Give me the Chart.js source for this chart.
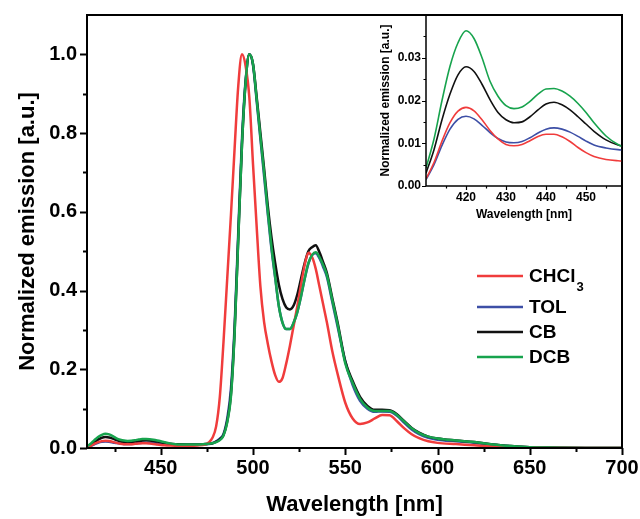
<!DOCTYPE html>
<html lang="en">
<head>
    <meta charset="UTF-8">
    <title>Normalized emission spectra</title>
    <script src="https://cdn.jsdelivr.net/npm/chart.js"></script>
    <style>
        body {
            margin: 0;
            background-color: #ffffff;
        }
        .wrap {
            position: relative;
            width: 640px;
            height: 519px;
        }
        #insetChart {
            position: absolute;
            left: 360px;
            top: 0;
        }
    </style>
</head>
<body>
    <div class="wrap">
        <canvas id="mainChart" width="640" height="519"></canvas>
        <canvas id="insetChart" width="280" height="225"></canvas>
    </div>

    <script>
        // Wavelength grid [nm]
        const wavelength = [410, 412, 414, 416, 418, 420, 422, 424, 426, 428, 430, 432, 434, 436, 438, 440, 442, 444, 446, 448, 450, 452, 455, 458, 460,
            465, 470, 474,
            476, 478, 480, 482, 484, 486, 488, 490, 492, 494, 496, 498, 500, 502, 504, 506, 508, 510, 512, 514, 516, 518, 520, 522, 524, 526, 528, 530, 532, 534, 536, 538, 540,
            543, 546, 550, 554, 558, 562, 566, 570, 574, 578, 582, 586, 590, 595, 600,
            610, 620, 630, 640, 650, 660, 680, 700];

        const chcl3 = [0.0017, 0.0055, 0.0105, 0.0148, 0.0175, 0.0184, 0.0176, 0.0155, 0.0130, 0.0110, 0.0097, 0.0094, 0.0097, 0.0106, 0.0116, 0.0121, 0.0121, 0.0115, 0.0104, 0.0090, 0.0078, 0.0069, 0.0062, 0.0059, 0.0058,
            0.0058, 0.0065, 0.009,
            0.014, 0.026, 0.055, 0.13, 0.27, 0.43, 0.59, 0.76, 0.92, 1.0, 0.97, 0.89, 0.72, 0.56, 0.41, 0.32, 0.265, 0.22, 0.185, 0.168, 0.178, 0.215, 0.26, 0.31, 0.36, 0.415, 0.465, 0.496, 0.485, 0.455, 0.41, 0.365, 0.32,
            0.245, 0.185, 0.115, 0.075, 0.061, 0.065, 0.075, 0.084, 0.083, 0.068, 0.05, 0.035, 0.025, 0.017, 0.013,
            0.010, 0.007, 0.004, 0.002, 0.001, 0.0005, 0, 0];

        const tol = [0.0015, 0.0050, 0.0095, 0.0133, 0.0156, 0.0163, 0.0157, 0.0142, 0.0125, 0.0111, 0.0103, 0.0101, 0.0104, 0.0113, 0.0124, 0.0133, 0.0136, 0.0133, 0.0126, 0.0116, 0.0105, 0.0096, 0.0089, 0.0085, 0.0084,
            0.0083, 0.0085, 0.0095,
            0.010, 0.012, 0.017, 0.024, 0.036, 0.075, 0.15, 0.31, 0.55, 0.785, 0.935, 1.0, 0.972, 0.88, 0.785, 0.69, 0.595, 0.505, 0.432, 0.36, 0.318, 0.302, 0.302, 0.318, 0.345, 0.385, 0.43, 0.468, 0.49, 0.495, 0.482, 0.46, 0.435,
            0.37, 0.305, 0.22, 0.16, 0.12, 0.10, 0.092, 0.093, 0.092, 0.082, 0.064, 0.047, 0.035, 0.026, 0.021,
            0.017, 0.013, 0.008, 0.004, 0.002, 0.001, 0, 0];

        const cb = [0.0030, 0.0085, 0.0155, 0.0215, 0.0260, 0.0279, 0.0268, 0.0238, 0.0202, 0.0172, 0.0155, 0.0148, 0.0150, 0.0162, 0.0178, 0.0192, 0.0196, 0.0190, 0.0178, 0.0162, 0.0145, 0.0128, 0.0108, 0.0096, 0.0093,
            0.009, 0.0092, 0.010,
            0.0105, 0.012, 0.016, 0.022, 0.033, 0.068, 0.135, 0.295, 0.535, 0.77, 0.93, 1.0, 0.975, 0.89, 0.80, 0.71, 0.615, 0.535, 0.47, 0.415, 0.378, 0.357, 0.352, 0.362, 0.39, 0.43, 0.47, 0.50, 0.51, 0.515, 0.497, 0.472, 0.445,
            0.38, 0.315, 0.22, 0.17, 0.13, 0.107, 0.097, 0.097, 0.096, 0.086, 0.068, 0.051, 0.039, 0.029, 0.024,
            0.019, 0.015, 0.009, 0.005, 0.002, 0.001, 0, 0];

        const dcb = [0.0042, 0.011, 0.020, 0.028, 0.0335, 0.0363, 0.0345, 0.030, 0.0245, 0.0210, 0.0188, 0.0181, 0.0185, 0.0198, 0.0215, 0.0227, 0.0228, 0.0222, 0.0210, 0.0193, 0.0172, 0.0148, 0.0117, 0.0097, 0.0090,
            0.0088, 0.009, 0.010,
            0.0105, 0.012, 0.015, 0.020, 0.032, 0.065, 0.13, 0.29, 0.53, 0.77, 0.93, 1.0, 0.975, 0.885, 0.79, 0.70, 0.60, 0.51, 0.435, 0.36, 0.318, 0.302, 0.302, 0.318, 0.345, 0.385, 0.43, 0.47, 0.49, 0.497, 0.485, 0.465, 0.44,
            0.375, 0.31, 0.215, 0.165, 0.125, 0.103, 0.094, 0.094, 0.094, 0.084, 0.067, 0.05, 0.038, 0.029, 0.024,
            0.019, 0.015, 0.009, 0.005, 0.002, 0.001, 0, 0];

        const seriesNames = ['CHCl3', 'TOL', 'CB', 'DCB'];
        const seriesColors = ['#f03c3c', '#3d4fa6', '#111111', '#17a34d'];
        const seriesValues = [chcl3, tol, cb, dcb];
        const drawOrder = [1, 3, 2, 0]; // green on top

        // Tick labels
        const mainXTicks = [450, 500, 550, 600, 650, 700];
        const mainXMinor = [425, 475, 525, 575, 625, 675];
        const mainYTicks = [0.0, 0.2, 0.4, 0.6, 0.8, 1.0];
        const mainYMinor = [0.1, 0.3, 0.5, 0.7, 0.9];
        const insetXTicks = [420, 430, 440, 450];
        const insetXMinor = [415, 425, 435, 445, 455];
        const insetYTicks = [0.00, 0.01, 0.02, 0.03];
        const insetYMinor = [0.005, 0.015, 0.025, 0.035];

        Chart.defaults.font.family = '"Liberation Sans", Arial, sans-serif';
        Chart.defaults.color = '#000';

        function buildDatasets(width) {
            return seriesNames.map((name, i) => ({
                label: name,
                data: wavelength.map((w, j) => ({ x: w, y: seriesValues[i][j] })),
                borderColor: seriesColors[i],
                borderWidth: width,
                pointRadius: 0,
                fill: false,
                cubicInterpolationMode: 'monotone',
                order: drawOrder[i]
            }));
        }

        // keep the plot box exactly where the layout padding puts it
        function fixWidth(w) {
            return s => { s.width = w; s.paddingTop = 0; s.paddingBottom = 0; };
        }
        function fixHeight(h) {
            return s => { s.height = h; s.paddingLeft = 0; s.paddingRight = 0; };
        }

        // Frame around plot area plus outward major/minor tick marks
        const frameTicks = {
            id: 'frameTicks',
            afterDraw(chart, args, opts) {
                const { ctx, chartArea: a, scales: { x, y } } = chart;
                ctx.save();
                ctx.strokeStyle = '#000';
                ctx.lineWidth = opts.lineWidth;
                ctx.strokeRect(a.left, a.top, a.right - a.left, a.bottom - a.top);
                ctx.beginPath();
                const xMark = (v, len) => {
                    const px = Math.round(x.getPixelForValue(v)) + 0.5;
                    ctx.moveTo(px, a.bottom);
                    ctx.lineTo(px, a.bottom + len);
                };
                const yMark = (v, len) => {
                    const py = Math.round(y.getPixelForValue(v)) + 0.5;
                    ctx.moveTo(a.left, py);
                    ctx.lineTo(a.left - len, py);
                };
                x.ticks.forEach(t => xMark(t.value, opts.major));
                opts.xMinor.forEach(v => xMark(v, opts.minor));
                y.ticks.forEach(t => yMark(t.value, opts.major));
                opts.yMinor.forEach(v => yMark(v, opts.minor));
                ctx.lineWidth = opts.tickWidth;
                ctx.stroke();
                ctx.restore();
            }
        };

        // Legend with subscript digits (CHCl3)
        const subLegend = {
            id: 'subLegend',
            afterDraw(chart, args, opts) {
                const ctx = chart.ctx;
                ctx.save();
                chart.data.datasets.forEach((ds, i) => {
                    const y = opts.rows[i];
                    ctx.strokeStyle = ds.borderColor;
                    ctx.lineWidth = 2.5;
                    ctx.beginPath();
                    ctx.moveTo(opts.x, y);
                    ctx.lineTo(opts.x + opts.len, y);
                    ctx.stroke();

                    const m = ds.label.match(/^(.*?)(\d*)$/);
                    ctx.fillStyle = '#000';
                    ctx.textBaseline = 'middle';
                    ctx.textAlign = 'left';
                    ctx.font = 'bold 19px "Liberation Sans", Arial, sans-serif';
                    const tx = opts.x + opts.len + 6;
                    ctx.fillText(m[1], tx, y + 1);
                    if (m[2]) {
                        const w = ctx.measureText(m[1]).width;
                        ctx.font = 'bold 13px "Liberation Sans", Arial, sans-serif';
                        ctx.fillText(m[2], tx + w + 1, y + 11);
                    }
                });
                ctx.restore();
            }
        };

        const mainChart = new Chart(document.getElementById('mainChart').getContext('2d'), {
            type: 'line',
            data: { datasets: buildDatasets(2.5) },
            options: {
                responsive: false,
                animation: false,
                layout: { padding: { top: 15, right: 18, left: 0, bottom: 0 } },
                plugins: {
                    legend: { display: false },
                    tooltip: { enabled: false },
                    frameTicks: { lineWidth: 2, tickWidth: 2, major: 7, minor: 4, xMinor: mainXMinor, yMinor: mainYMinor },
                    subLegend: { x: 477, len: 46, rows: [276, 307, 332, 357] }
                },
                scales: {
                    x: {
                        type: 'linear',
                        min: 410,
                        max: 700,
                        grid: { display: false, drawTicks: false },
                        border: { display: false },
                        afterBuildTicks: s => { s.ticks = mainXTicks.map(v => ({ value: v })); },
                        afterFit: fixHeight(71),
                        ticks: {
                            padding: 8,
                            maxRotation: 0,
                            font: { size: 20, weight: 'bold' },
                            callback: v => String(v)
                        },
                        title: {
                            display: true,
                            text: 'Wavelength [nm]',
                            font: { size: 22, weight: 'bold' },
                            padding: { top: 0, bottom: 1 }
                        }
                    },
                    y: {
                        min: 0,
                        max: 1.1,
                        grid: { display: false, drawTicks: false },
                        border: { display: false },
                        afterBuildTicks: s => { s.ticks = mainYTicks.map(v => ({ value: v })); },
                        afterFit: fixWidth(87),
                        ticks: {
                            padding: 10,
                            font: { size: 20, weight: 'bold' },
                            callback: v => v.toFixed(1)
                        },
                        title: {
                            display: true,
                            text: 'Normalized emission [a.u.]',
                            font: { size: 22, weight: 'bold' },
                            padding: { top: 15, bottom: 0 }
                        }
                    }
                }
            },
            plugins: [frameTicks, subLegend]
        });

        const insetChart = new Chart(document.getElementById('insetChart').getContext('2d'), {
            type: 'line',
            data: { datasets: buildDatasets(1.6) },
            options: {
                responsive: false,
                animation: false,
                layout: { padding: { top: 15, right: 18, left: 0, bottom: 0 } },
                plugins: {
                    legend: { display: false },
                    tooltip: { enabled: false },
                    frameTicks: { lineWidth: 1.5, tickWidth: 1.2, major: 4, minor: 2.5, xMinor: insetXMinor, yMinor: insetYMinor }
                },
                scales: {
                    x: {
                        type: 'linear',
                        min: 410,
                        max: 459,
                        grid: { display: false, drawTicks: false },
                        border: { display: false },
                        afterBuildTicks: s => { s.ticks = insetXTicks.map(v => ({ value: v })); },
                        afterFit: fixHeight(39),
                        ticks: {
                            padding: 4,
                            maxRotation: 0,
                            font: { size: 12, weight: 'bold' },
                            callback: v => String(v)
                        },
                        title: {
                            display: true,
                            text: 'Wavelength [nm]',
                            font: { size: 12, weight: 'bold' },
                            padding: { top: 0, bottom: 3 }
                        }
                    },
                    y: {
                        min: 0,
                        max: 0.04,
                        grid: { display: false, drawTicks: false },
                        border: { display: false },
                        afterBuildTicks: s => { s.ticks = insetYTicks.map(v => ({ value: v })); },
                        afterFit: fixWidth(66),
                        ticks: {
                            padding: 5,
                            font: { size: 12, weight: 'bold' },
                            callback: v => v.toFixed(2)
                        },
                        title: {
                            display: true,
                            text: 'Normalized emission [a.u.]',
                            font: { size: 12, weight: 'bold' },
                            padding: { top: 18, bottom: 0 }
                        }
                    }
                }
            },
            plugins: [frameTicks]
        });
    </script>
</body>
</html>
